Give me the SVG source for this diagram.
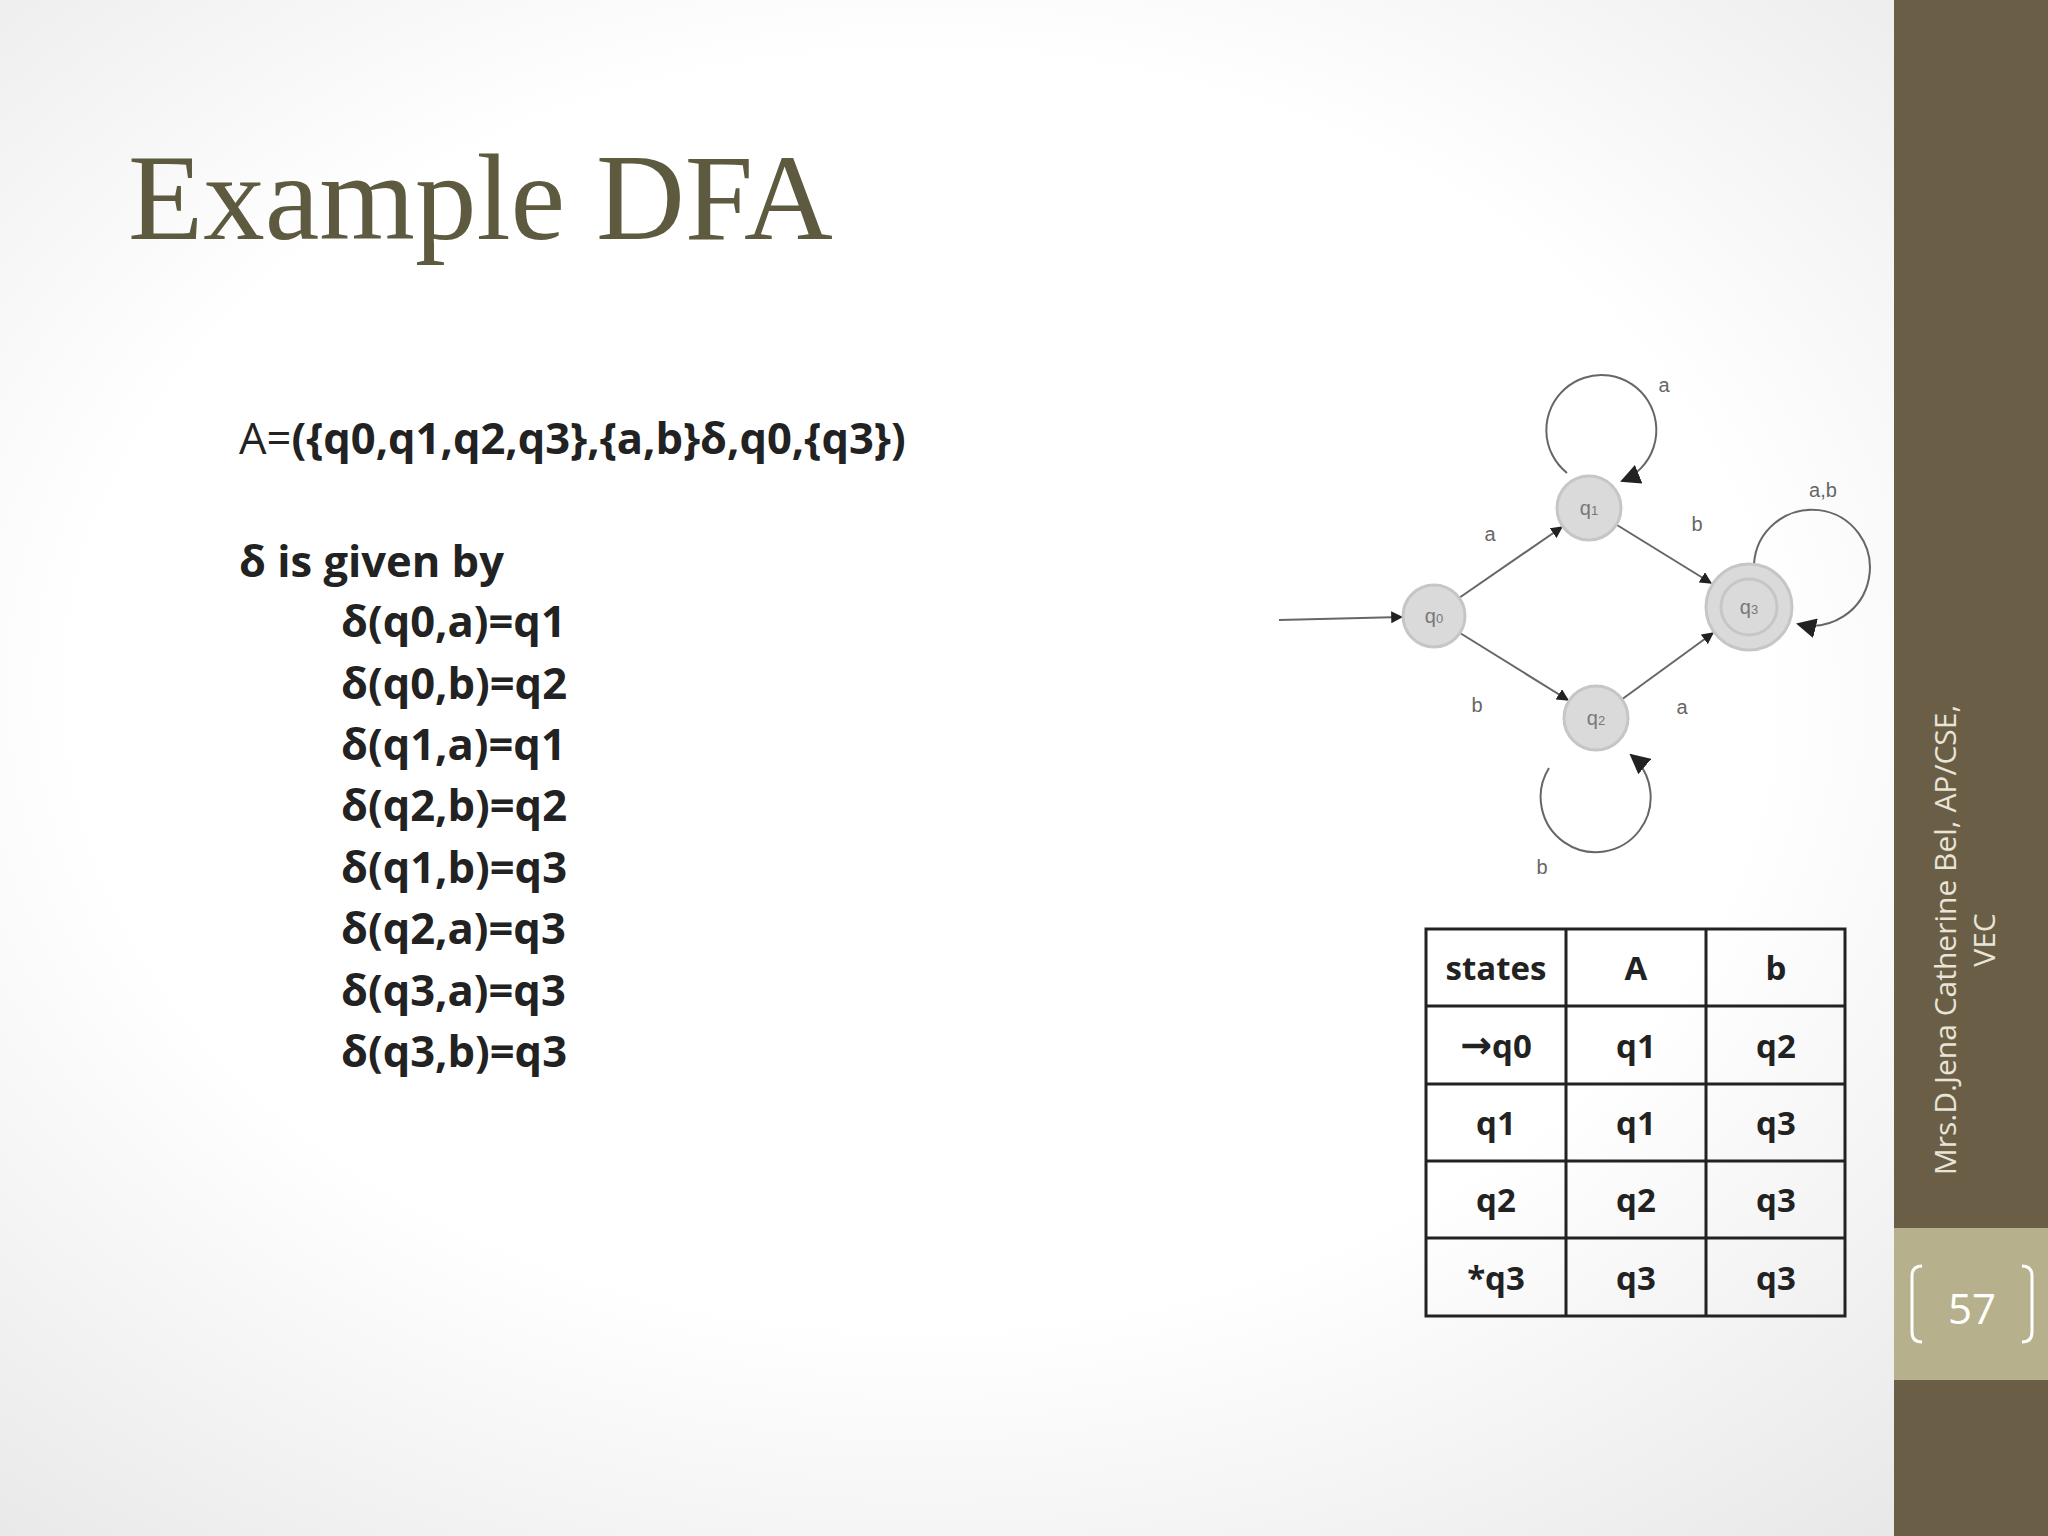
<svg xmlns="http://www.w3.org/2000/svg" width="2048" height="1536" viewBox="0 0 2048 1536">
<defs>
<radialGradient id="bg" cx="0.45" cy="0.45" r="0.75">
<stop offset="0.55" stop-color="#ffffff"/><stop offset="1" stop-color="#e6e6e6"/>
</radialGradient>
<marker id="ar" viewBox="0 0 10 10" refX="9" refY="5" markerWidth="12" markerHeight="12" markerUnits="userSpaceOnUse" orient="auto"><path d="M0,0 L10,5 L0,10 z" fill="#222"/></marker>
<marker id="arb" viewBox="0 0 10 10" refX="9" refY="5" markerWidth="20" markerHeight="20" markerUnits="userSpaceOnUse" orient="auto"><path d="M0,0 L10,5 L0,10 z" fill="#222"/></marker>
</defs>
<style>
.b{font-family:"Open Sans","Liberation Sans",sans-serif;font-weight:bold;font-size:43.5px;fill:#222}
.t{font-family:"Open Sans","Liberation Sans",sans-serif;font-weight:bold;font-size:33px;fill:#222;text-anchor:middle}
.n{fill:#dadada;stroke:#c6c6c6;stroke-width:3}
.nl{font-family:"Liberation Sans",sans-serif;font-size:20px;fill:#777;text-anchor:middle}
.el{font-family:"Liberation Sans",sans-serif;font-size:20px;fill:#666;text-anchor:middle}
.e{fill:none;stroke:#666;stroke-width:2}
.g{stroke:#222;stroke-width:3;fill:none}
</style>
<rect width="2048" height="1536" fill="url(#bg)"/>
<rect x="1894" y="0" width="154" height="1536" fill="#6b5e46"/>
<rect x="1894" y="1228" width="154" height="152" fill="#b7b08c"/>
<path d="M1922,1266 q-10,0 -10,10 v56 q0,10 10,10" fill="none" stroke="#fff" stroke-width="3"/>
<path d="M2022,1266 q10,0 10,10 v56 q0,10 -10,10" fill="none" stroke="#fff" stroke-width="3"/>
<text x="1972" y="1324" font-family="Open Sans, Liberation Sans, sans-serif" font-size="42" fill="#fff" text-anchor="middle">57</text>
<g font-family="Open Sans, Liberation Sans, sans-serif" font-size="30" fill="#e8e4d6" text-anchor="middle">
<text transform="translate(1956,940) rotate(-90)">Mrs.D.Jena Catherine Bel, AP/CSE,</text>
<text transform="translate(1995,940) rotate(-90)">VEC</text>
</g>
<text x="128" y="239" font-family="Liberation Serif, serif" font-size="123" fill="#5e5a40">Example DFA</text>
<g id="text">
<text x="239" y="454" class="b" font-size="46.5"><tspan font-weight="normal">A=</tspan>({q0,q1,q2,q3},{a,b}δ,q0,{q3})</text>
<text x="239" y="577" class="b">δ is given by</text>
<text x="341" y="637" class="b">δ(q0,a)=q1</text>
<text x="341" y="699" class="b">δ(q0,b)=q2</text>
<text x="341" y="760" class="b">δ(q1,a)=q1</text>
<text x="341" y="821" class="b">δ(q2,b)=q2</text>
<text x="341" y="883" class="b">δ(q1,b)=q3</text>
<text x="341" y="944" class="b">δ(q2,a)=q3</text>
<text x="341" y="1006" class="b">δ(q3,a)=q3</text>
<text x="341" y="1067" class="b">δ(q3,b)=q3</text>
</g>
<g id="table">
<rect x="1426" y="929" width="419" height="387" fill="none" stroke="#222" stroke-width="3"/>
<path class="g" d="M1566,929V1316M1706,929V1316M1426,1006H1845M1426,1084H1845M1426,1161H1845M1426,1238H1845"/>
<text class="t" x="1496" y="980">states</text><text class="t" x="1636" y="980">A</text><text class="t" x="1776" y="980">b</text>
<text class="t" x="1496" y="1058"><tspan font-family="DejaVu Sans, sans-serif" font-size="38">→</tspan>q0</text><text class="t" x="1636" y="1058">q1</text><text class="t" x="1776" y="1058">q2</text>
<text class="t" x="1496" y="1135">q1</text><text class="t" x="1636" y="1135">q1</text><text class="t" x="1776" y="1135">q3</text>
<text class="t" x="1496" y="1212">q2</text><text class="t" x="1636" y="1212">q2</text><text class="t" x="1776" y="1212">q3</text>
<text class="t" x="1496" y="1290">*q3</text><text class="t" x="1636" y="1290">q3</text><text class="t" x="1776" y="1290">q3</text>
</g>
<g id="connectors">
<path class="e" d="M1279,620 L1402,617" marker-end="url(#ar)"/>
<path class="e" d="M1459,598 L1562,527" marker-end="url(#ar)"/>
<path class="e" d="M1617,525 L1711,583" marker-end="url(#ar)"/>
<path class="e" d="M1460,633 L1568,700" marker-end="url(#ar)"/>
<path class="e" d="M1621,700 L1713,633" marker-end="url(#ar)"/>
<path class="e" d="M1567,473 A55,55 0 1 1 1622,481" marker-end="url(#arb)"/>
<path class="e" d="M1549,768 A55,55 0 1 0 1631,755" marker-end="url(#arb)"/>
<path class="e" d="M1754,564 A58,58 0 1 1 1798,624" marker-end="url(#arb)"/>
<text class="el" x="1490" y="541">a</text>
<text class="el" x="1697" y="531">b</text>
<text class="el" x="1477" y="712">b</text>
<text class="el" x="1682" y="714">a</text>
<text class="el" x="1664" y="392">a</text>
<text class="el" x="1542" y="874">b</text>
<text class="el" x="1823" y="497">a,b</text>
</g>
<g id="q0"><circle class="n" cx="1434" cy="616" r="31"/><text class="nl" x="1434" y="623">q<tspan font-size="13">0</tspan></text></g>
<g id="q1"><circle class="n" cx="1589" cy="508" r="32"/><text class="nl" x="1589" y="515">q<tspan font-size="13">1</tspan></text></g>
<g id="q2"><circle class="n" cx="1596" cy="718" r="32"/><text class="nl" x="1596" y="725">q<tspan font-size="13">2</tspan></text></g>
<g id="q3"><circle class="n" cx="1749" cy="607" r="43"/><circle class="n" cx="1749" cy="607" r="28"/><text class="nl" x="1749" y="614">q<tspan font-size="13">3</tspan></text></g>
</svg>
